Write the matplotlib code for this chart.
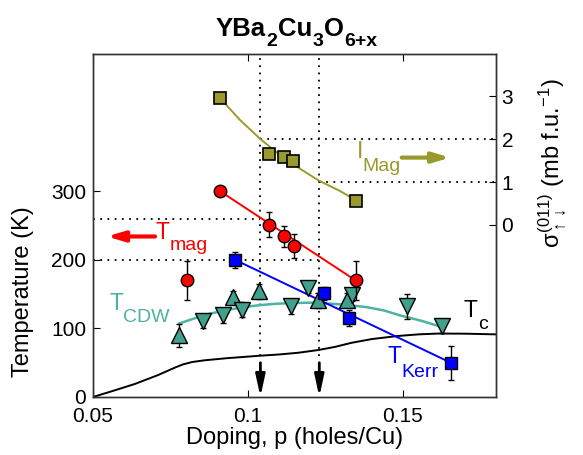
import matplotlib
matplotlib.use('Agg')
import matplotlib.pyplot as plt
from matplotlib.transforms import offset_copy

plt.rcParams['font.family'] = ['Liberation Sans', 'DejaVu Sans']
plt.rcParams['mathtext.fontset'] = 'custom'
plt.rcParams['mathtext.rm'] = 'Liberation Sans'
plt.rcParams['mathtext.it'] = 'Liberation Sans'
plt.rcParams['mathtext.bf'] = 'Liberation Sans:bold'

# --- data ---
# magnetic intensity (right axis)
p_mag = [0.0910, 0.1068, 0.1115, 0.1146, 0.1347]
i_mag = [2.96, 1.66, 1.58, 1.48, 0.56]
p_mag_fit = [0.0910, 0.0974, 0.1039, 0.1103, 0.1168, 0.1227, 0.1297, 0.1347]
i_mag_fit = [2.96, 2.45, 2.01, 1.63, 1.31, 1.04, 0.79, 0.58]

# T_mag (red circles)
p_tmag = [0.0910, 0.1068, 0.1117, 0.1148, 0.1347]
t_tmag = [300, 251, 234, 220, 170]
e_tmag = [0, 18, 15, 17, 28]
p_tmag_out = [0.0802]
t_tmag_out = [170]
e_tmag_out = [28]

# T_Kerr (blue squares)
p_kerr = [0.0958, 0.1246, 0.1327, 0.1654]
t_kerr = [200, 151, 115, 50]
e_kerr = [12, 9, 12, 25]

# T_CDW (teal triangles)
p_cdw_up = [0.0777, 0.0953, 0.1036, 0.1225, 0.1318]
t_cdw_up = [90, 146, 154, 141, 141]
e_cdw_up = [17, 8, 11, 11, 10]
p_cdw_dn = [0.0856, 0.0918, 0.0982, 0.1138, 0.1195, 0.1335, 0.1514, 0.1625]
t_cdw_dn = [111, 119, 127, 132, 159, 148, 132, 104]
e_cdw_dn = [10, 11, 11, 11, 7, 8, 18, 10]
p_cdw_fit = [0.0777, 0.0830, 0.0877, 0.0935, 0.0985, 0.1040, 0.1093, 0.1150, 0.1200,
             0.1250, 0.1300, 0.1383, 0.1440, 0.1490, 0.1560, 0.1625]
t_cdw_fit = [107, 115, 121.5, 127, 131, 134, 136, 137, 137.5,
             136.5, 135, 131, 126, 119, 111, 102]

# T_c (black line)
p_tc = [0.05, 0.0565, 0.0635, 0.0710, 0.0765, 0.0790, 0.0820, 0.0860, 0.0930, 0.1033,
        0.1100, 0.1162, 0.1227, 0.1280, 0.1334, 0.1400, 0.1485, 0.1550, 0.1614, 0.1700, 0.18]
t_tc = [0, 9, 19, 32, 43, 47.5, 51, 53.5, 56.5, 60,
        62, 64.5, 68.5, 73, 79, 84.5, 89, 91.3, 92.5, 92.3, 91.3]

p_marks = [0.104, 0.123]

# title pieces: (text, is_subscript)
title_parts = [('YBa', False), ('2', True), ('Cu', False), ('3', True),
               ('O', False), ('6+x', True)]

red = '#ff0000'
blue = '#0000ff'
olive = '#9a9a2c'
teal = '#3ea08d'
teal_line = '#4bb3a0'

fig = plt.figure(figsize=(5.83, 4.55), dpi=100)
ax = fig.add_axes([93/583, 1-397/455, 403/583, 343/455])
ax2 = ax.twinx()

ax.set_xlim(0.05, 0.18)
ax.set_ylim(0, 500)
ax2.set_ylim(-4.02, 3.99)

# dotted guide lines
for p in p_marks:
    ax.plot([p, p], [60, 500], ls=(0, (1, 3)), color='k', lw=1.3, zorder=1)
ax.plot([0.05, 0.104], [260, 260], ls=(0, (1, 3)), color='k', lw=1.3, zorder=1)
ax.plot([0.05, 0.123], [200, 200], ls=(0, (1, 3)), color='k', lw=1.3, zorder=1)
ax2.plot([0.104, 0.18], [2, 2], ls=(0, (1, 3)), color='k', lw=1.3, zorder=1)
ax2.plot([0.123, 0.18], [1, 1], ls=(0, (1, 3)), color='k', lw=1.3, zorder=1)

# arrows marking the two dopings
for p in p_marks:
    ax.annotate('', xy=(p, 0), xytext=(p, 50),
                arrowprops=dict(arrowstyle='-|>,head_width=0.28,head_length=1.3',
                                color='k', lw=2, shrinkA=0, shrinkB=0))

# Tc
ax.plot(p_tc, t_tc, color='k', lw=1.4, zorder=2)

# CDW
ax.plot(p_cdw_fit, t_cdw_fit, color=teal_line, lw=1.8, zorder=2)
ax.errorbar(p_cdw_up, t_cdw_up, yerr=e_cdw_up, fmt='^', ms=11, mfc=teal, mec='k',
            mew=1, ecolor='k', elinewidth=1, capsize=2.5, zorder=4)
ax.errorbar(p_cdw_dn, t_cdw_dn, yerr=e_cdw_dn, fmt='v', ms=11, mfc=teal, mec='k',
            mew=1, ecolor='k', elinewidth=1, capsize=2.5, zorder=4)

# Kerr
ax.plot([p_kerr[0], p_kerr[-1]], [t_kerr[0], t_kerr[-1]], color=blue, lw=1.4, zorder=3)
ax.errorbar(p_kerr, t_kerr, yerr=e_kerr, fmt='s', ms=8, mfc=blue, mec='k',
            mew=1, ecolor='k', elinewidth=1, capsize=2.5, zorder=5)

# Tmag
ax.plot([p_tmag[0], p_tmag[-1]], [t_tmag[0], t_tmag[-1]], color=red, lw=1.4, zorder=3)
ax.errorbar(p_tmag, t_tmag, yerr=e_tmag, fmt='o', ms=9, mfc=red, mec='k',
            mew=1, ecolor='k', elinewidth=1, capsize=2.5, zorder=5)
ax.errorbar(p_tmag_out, t_tmag_out, yerr=e_tmag_out, fmt='o', ms=9, mfc=red, mec='k',
            mew=1, ecolor='k', elinewidth=1, capsize=2.5, zorder=5)

# magnetic intensity
ax2.plot(p_mag_fit, i_mag_fit, color=olive, lw=1.4, zorder=2)
ax2.plot(p_mag, i_mag, 's', ms=8, mfc=olive, mec='k', mew=1.2, zorder=5)


def sub_label(x, y, main, sub, color, dx, dy):
    # big letter plus a nearly full-size subscript, as in the original figure
    ax.text(x, y, main, color=color, fontsize=16.5, va='baseline')
    ax.annotate(sub, xy=(x, y), xytext=(dx, -dy), textcoords='offset points',
                color=color, fontsize=14, va='baseline')


sub_label(0.0703, 231, 'T', 'mag', red, 10, 8.5)
ax.annotate('', xy=(0.0545, 234), xytext=(0.0700, 234),
            arrowprops=dict(arrowstyle='-|>,head_width=0.3,head_length=1.0',
                            color=red, lw=3, shrinkA=0, shrinkB=0))
sub_label(0.0552, 127, 'T', 'CDW', teal_line, 10, 9)
sub_label(0.1694, 116, 'T', 'c', 'k', 10.5, 8)
sub_label(0.1449, 49, 'T', 'Kerr', blue, 10.3, 9.5)
sub_label(0.1352, 348, 'I', 'Mag', olive, 3.5, 9.5)
ax.annotate('', xy=(0.1652, 349), xytext=(0.1496, 349),
            arrowprops=dict(arrowstyle='-|>,head_width=0.3,head_length=1.0',
                            color=olive, lw=3, shrinkA=0, shrinkB=0))

# ticks
ax.set_xticks([0.05, 0.1, 0.15])
ax.set_xticklabels(['0.05', '0.1', '0.15'])
ax.set_yticks([0, 100, 200, 300])
ax2.set_yticks([0, 1, 2, 3])
ax.tick_params(axis='x', direction='in', top=True, length=5, labelsize=15, pad=7)
ax.tick_params(axis='y', direction='in', length=5, labelsize=15, pad=5)
ax2.tick_params(axis='y', direction='in', length=5, labelsize=15, pad=4)
for a in (ax, ax2):
    for s in a.spines.values():
        s.set_linewidth(1.0)
        s.set_color('#333333')

ax.set_xlabel('Doping, p (holes/Cu)', fontsize=17, labelpad=1)
fig.text(23/583, 1-292/455, 'Temperature (K)', rotation=90, fontsize=17,
         ha='center', va='center')
fig.text(552/583, 1-163/455, r'$\sigma^{(011)}_{\uparrow\downarrow}$ (mb f.u.$^{-1}$)',
         rotation=90, fontsize=17, ha='center', va='center')

# title built piece by piece so the subscripts can be large and low
renderer = fig.canvas.get_renderer()
x_px = 216
for txt, is_sub in title_parts:
    size = 14 if is_sub else 18.5
    y_px = 455 - (46 if is_sub else 35.5)
    t = fig.text(x_px / 583, y_px / 455, txt, fontsize=size, fontweight='bold',
                 ha='left', va='baseline')
    x_px += t.get_window_extent(renderer).width + 0.5

fig.savefig('out.png', dpi=100)
